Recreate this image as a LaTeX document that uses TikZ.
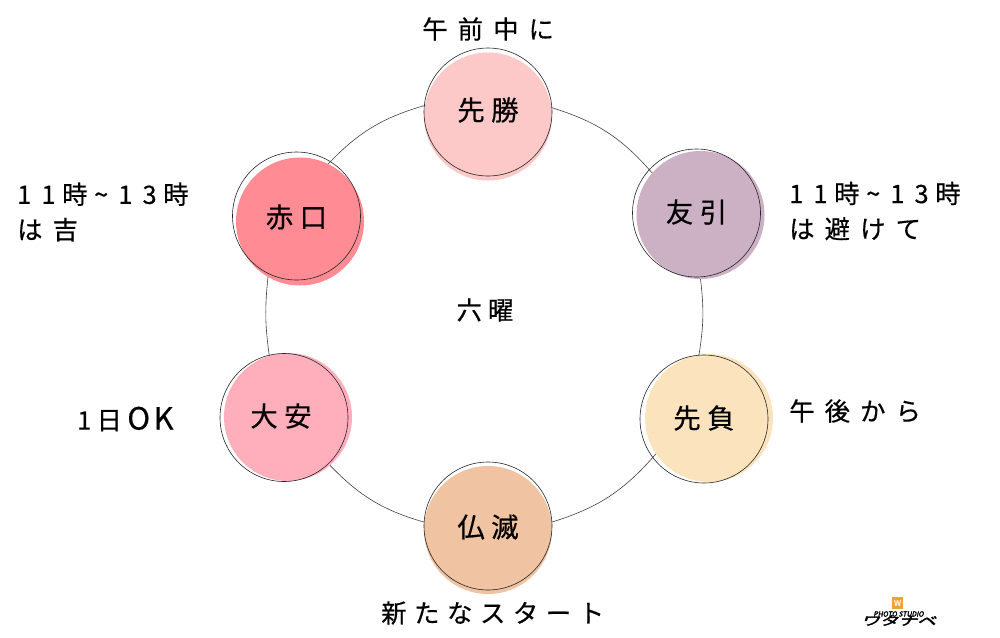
\documentclass[tikz,border=0pt]{standalone}
\usepackage{fontspec}
\setmainfont[LetterSpace=24, FakeBold=0.5]{Noto Sans CJK JP}
\newfontfamily\notefont[LetterSpace=40, FakeBold=0.5]{Noto Sans CJK JP}
\newfontfamily\narrowfont[LetterSpace=30, FakeBold=0.5]{Noto Sans CJK JP}
\newfontfamily\latinfont[LetterSpace=12, FakeBold=0.5]{Noto Sans CJK JP}
\newfontfamily\logofont[FakeBold=3]{Noto Sans CJK JP}
\tikzset{
	dayfill/.style={circle, minimum size=96pt, inner sep=0pt, outer sep=0pt},
	dayline/.style={circle, draw=black!85, line width=0.45pt, minimum size=96pt, inner sep=0pt},
	daytext/.style={inner sep=0pt, font=\fontsize{20.5}{24}\selectfont},
	ringline/.style={draw=black!75, line width=0.45pt},
	note/.style={anchor=west, align=left, inner sep=0pt, font=\notefont\fontsize{19}{26.5}\selectfont}
}
\definecolor{cSensho}{HTML}{FDC9C8}
\definecolor{cTomo}{HTML}{CCB0C4}
\definecolor{cSenbu}{HTML}{FBE3BE}
\definecolor{cButsu}{HTML}{F0C3A2}
\definecolor{cTaian}{HTML}{FFAEBC}
\definecolor{cShaku}{HTML}{FF8B94}
\definecolor{cLogo}{HTML}{F2A32E}
\begin{document}
\begin{tikzpicture}[x=0.75pt, y=-0.75pt]
\useasboundingbox (0,0) rectangle (1000,637);

\foreach \x/\y/\n/\c in {
	488/116.5/sensho/cSensho%
	,700.5/215/tomo/cTomo%
	,709/418/senbu/cSenbu%
	,488/530/butsu/cButsu%
	,288/417/taian/cTaian%
	,300/221.5/shaku/cShaku%
}{
	\node[dayfill, fill=\c] (\n) at (\x,\y) {};
}

% ring pieces
\draw[ringline] (sensho.8) to[bend left=16] (tomo.139);
\draw[ringline] (tomo.270) to[bend left=8] (senbu.99);
\draw[ringline] (senbu.214) to[bend left=16] (butsu.7);
\draw[ringline] (butsu.173) to[bend left=15] (taian.-49);
\draw[ringline] (taian.107) to[bend left=7] (shaku.240);
\draw[ringline] (shaku.64) to[bend left=15] (sensho.170);

\foreach \x/\y/\n in {
	488/112/senshoC,696.5/213/tomoC,704/419/senbuC,488/526/butsuC,284/417.5/taianC,296.5/216/shakuC%
}{
	\node[dayline] (\n) at (\x,\y) {};
}

\foreach \x/\y/\n/\t in {
	488/110/senshoT/先勝%
	,696.5/212/tomoT/友引%
	,704/418/senbuT/先負%
	,488/527/butsuT/仏滅%
	,281/416/taianT/大安%
	,296.5/217/shakuT/赤口%
}{
	\node[daytext] (\n) at (\x,\y) {\t};
}

\node[inner sep=0pt, font=\fontsize{19}{20}\selectfont] (center) at (485,310) {六曜};

\node[note] (noteTop) at (422,29) {午前中に};
\node[note] (noteTomo) at (789,211) {11\hspace{5pt}時\hspace{5pt}\textasciitilde13\hspace{5pt}時\\は避けて};
\node[note] (noteSenbu) at (789,411) {午後から};
\node[note, font=\narrowfont\fontsize{19}{26.5}\selectfont] (noteBottom) at (381,613) {新たなスタート};
\node[note] (noteTaian) at (77,419) {1\hspace{4pt}日\hspace{4pt}{\latinfont\fontsize{23}{26}\selectfont OK}};
\node[note] (noteShaku) at (17,212) {11\hspace{5pt}時\hspace{5pt}\textasciitilde13\hspace{5pt}時\\は吉};

% logo
\node[fill=cLogo, minimum width=8.5pt, minimum height=9pt, inner sep=0pt, text=white, font=\fontsize{6}{6}\selectfont] (logoMark) at (897.5,603) {W};
\node[inner sep=0pt, font=\logofont\fontsize{5.2}{6}\selectfont, xslant=0.2] (logoName) at (899,614) {PHOTO STUDIO};
\node[inner sep=0pt, font=\logofont\fontsize{14}{14}\selectfont, xslant=0.3, yscale=0.65] (logoKana) at (900,620.5) {ワタナベ};
\end{tikzpicture}
\end{document}
